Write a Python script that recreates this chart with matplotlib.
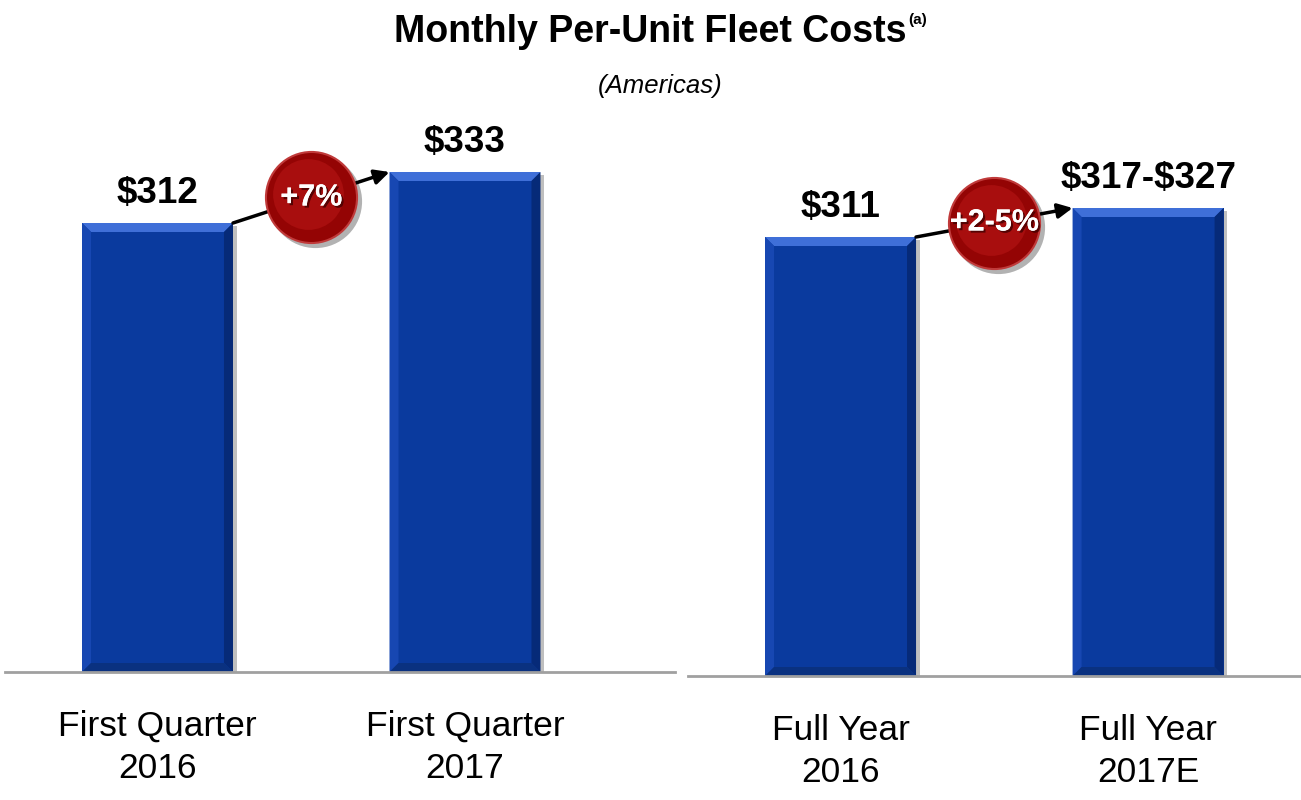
import numpy as np
import matplotlib.pyplot as plt
from matplotlib.patches import Polygon
import matplotlib.patheffects as pe

plt.rcParams['font.family'] = ['Liberation Sans', 'DejaVu Sans']

# data
left_labels = ["First Quarter\n2016", "First Quarter\n2017"]
left_values = [312, 333]
left_text = ["\\$312", "\\$333"]
left_change = "+7%"

right_labels = ["Full Year\n2016", "Full Year\n2017E"]
right_values = [311, 322]   # 2017E shown as range 317-327, midpoint used
right_text = ["\\$311", "\\$317-\\$327"]
right_change = "+2-5%"

BLUE = "#0a3a9e"
RED = "#940404"

fig = plt.figure(figsize=(13.01, 8), dpi=100)
W, H = 1301, 800


def px_axes(x0, x1, ybot, ytop):
    return fig.add_axes([x0 / W, (H - ybot) / H, (x1 - x0) / W, (ybot - ytop) / H])


def bevel(ax, bar, bx, by):
    x0, y0 = bar.get_x(), bar.get_y()
    x1, y1 = x0 + bar.get_width(), y0 + bar.get_height()
    faces = [
        ([(x0, y1), (x1, y1), (x1 - bx, y1 - by), (x0 + bx, y1 - by)], "#3f6fd8"),
        ([(x0, y0), (x0, y1), (x0 + bx, y1 - by), (x0 + bx, y0 + by)], "#1747b2"),
        ([(x1, y0), (x1, y1), (x1 - bx, y1 - by), (x1 - bx, y0 + by)], "#062a78"),
        ([(x0, y0), (x1, y0), (x1 - bx, y0 + by), (x0 + bx, y0 + by)], "#0a3180"),
    ]
    for pts, c in faces:
        ax.add_patch(Polygon(pts, closed=True, facecolor=c, edgecolor="none", zorder=3))


def panel(ax, labels, values, texts, change, ylim, xlim, ky):
    w = 0.491
    x = np.arange(len(values))
    ax.set_xlim(*xlim)
    ax.set_ylim(*ylim)
    # soft shadow
    ax.bar(x + 0.012, np.array(values) - ylim[0], w, bottom=ylim[0] - 1.2,
           color="#000000", alpha=0.25, zorder=2)
    bars = ax.bar(x, np.array(values) - ylim[0], w, bottom=ylim[0],
                  color=BLUE, zorder=3)
    bx = 9 / 307.5
    by = 9 / ky
    for b in bars:
        bevel(ax, b, bx, by)
    for xi, v, t in zip(x, values, texts):
        ax.text(xi, v + 20 / ky, t, ha="center", va="baseline", fontsize=26.5,
                fontweight="bold", zorder=5)
    # arrow between bar corners
    p0 = (x[0] + w / 2, values[0])
    p1 = (x[1] - w / 2, values[1])
    ax.annotate("", xy=p1, xytext=p0,
                arrowprops=dict(arrowstyle="-|>", color="black", lw=2.5,
                                mutation_scale=22, shrinkA=0, shrinkB=0), zorder=4)
    mx, my = (p0[0] + p1[0]) / 2, (p0[1] + p1[1]) / 2
    ax.scatter([mx + 0.012], [my - 4 / ky], s=4500, color="#000000", alpha=0.3,
               zorder=5, linewidths=0)
    ax.scatter([mx], [my], s=4300, color=RED, edgecolors="#c03a3a",
               linewidths=1.5, zorder=6)
    ax.scatter([mx - 0.01], [my + 3 / ky], s=2600, color="#a80e0e", linewidths=0,
               zorder=6)
    ax.text(mx, my, change, ha="center", va="center", color="white",
            fontsize=22, fontweight="bold", zorder=7,
            path_effects=[pe.withSimplePatchShadow(offset=(1.5, -1.5),
                                                   shadow_rgbFace="#400000", alpha=0.8),
                          pe.Normal()])
    ax.set_xticks(x, labels, fontsize=25.5, linespacing=1.35)
    ax.tick_params(axis="x", length=0, pad=27)
    ax.set_yticks([])
    for s in ["top", "left", "right"]:
        ax.spines[s].set_visible(False)
    ax.spines["bottom"].set_color("#a0a0a0")
    ax.spines["bottom"].set_linewidth(2)
    ax.spines["bottom"].set_zorder(4)
    ax.patch.set_alpha(0)


axl = px_axes(5, 675, 672, 100)
kl = 51 / 21
v0 = 312 - 449 / kl
panel(axl, left_labels, left_values, left_text, left_change,
      (v0, v0 + 572 / kl), (-0.496, 1.683), kl)

axr = px_axes(688, 1300, 676, 100)
kr = 29 / 11
v0r = 311 - 439 / kr
panel(axr, right_labels, right_values, right_text, right_change,
      (v0r, v0r + 576 / kr), (-0.496, 1.494), kr)

fig.text(650 / W, (H - 32) / H, "Monthly Per-Unit Fleet Costs", ha="center",
         va="center", fontsize=27, fontweight="bold")
fig.text(908 / W, (H - 20) / H, "(a)", ha="left", va="center", fontsize=11,
         fontweight="bold")
fig.text(660 / W, (H - 86) / H, "(Americas)", ha="center", va="center",
         fontsize=18.5, style="italic")

fig.savefig("out.png", dpi=100)
